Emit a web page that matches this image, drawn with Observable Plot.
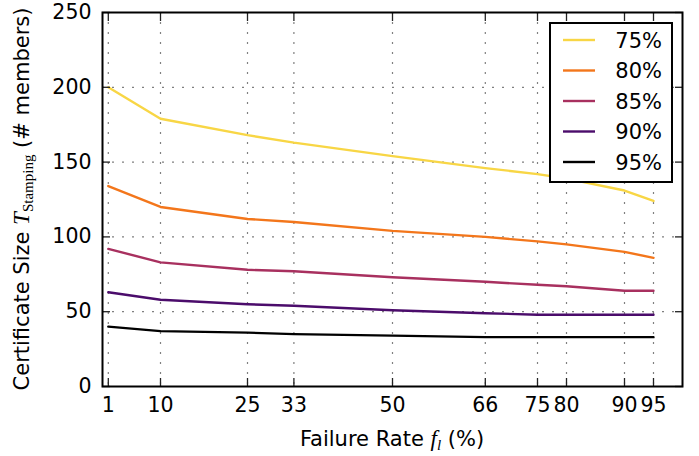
<!DOCTYPE html>
<html><head><meta charset="utf-8">
<script src="https://cdn.jsdelivr.net/npm/d3@7"></script>
<script src="https://cdn.jsdelivr.net/npm/@observablehq/plot@0.6"></script>
<style>body{margin:0;background:#fff} svg{display:block}</style>
</head><body><div id="chart"></div>
<script>
const failureRates = [1, 10, 25, 33, 50, 66, 75, 80, 90, 95];
const seriesNames = ["75%", "80%", "85%", "90%", "95%"];
const seriesColors = ["#f8d645", "#f3761b", "#a8305f", "#4b0c6b", "#000000"];
const s75 = [200, 179, 168, 163, 154, 146, 142, 139, 131, 124];
const s80 = [134, 120, 112, 110, 104, 100, 97, 95, 90, 86];
const s85 = [92, 83, 78, 77, 73, 70, 68, 67, 64, 64];
const s90 = [63, 58, 55, 54, 51, 49, 48, 48, 48, 48];
const s95 = [40, 37, 36, 35, 34, 33, 33, 33, 33, 33];
const yTicks = [0, 50, 100, 150, 200, 250];
const yGrid = [50, 100, 150, 200];

const allSeries = [s75, s80, s85, s90, s95];
const data = [];
allSeries.forEach((vals, si) => vals.forEach((v, i) => data.push({x: failureRates[i], y: v, series: seriesNames[si]})));

const font = "DejaVu Sans";
const chart = Plot.plot({
  width: 699, height: 456,
  marginLeft: 102, marginRight: 17, marginTop: 12, marginBottom: 70,
  x: {domain: [0, 100]},
  y: {domain: [0, 250]},
  color: {domain: seriesNames, range: seriesColors},
  style: {fontFamily: font, fontSize: "20.5px", color: "black", background: "white"},
  marks: [
    Plot.gridX(failureRates, {stroke: "#808080", strokeOpacity: 1, strokeWidth: 1.2, strokeDasharray: "2,8"}),
    Plot.gridY(yGrid, {stroke: "#808080", strokeOpacity: 1, strokeWidth: 1.2, strokeDasharray: "2,8"}),
    Plot.line(data, {x: "x", y: "y", z: "series", stroke: "series", strokeWidth: 2.4}),
    Plot.axisX(failureRates, {tickSize: -8, tickPadding: 19, label: null, stroke: "#222", strokeWidth: 1.3}),
    Plot.axisX(failureRates, {anchor: "top", tickSize: -8, fill: "none", label: null, stroke: "#222", strokeWidth: 1.3}),
    Plot.axisY(yTicks, {tickSize: -8, tickPadding: 19, label: null, stroke: "#222", strokeWidth: 1.3}),
    Plot.axisY(yTicks, {anchor: "right", tickSize: -8, fill: "none", label: null, stroke: "#222", strokeWidth: 1.3}),
    Plot.frame({stroke: "black", strokeWidth: 2})
  ]
});
document.getElementById("chart").appendChild(chart);

const svg = d3.select(chart);
// y label
const yl = svg.append("text")
  .attr("transform", "translate(29,199) rotate(-90)")
  .attr("text-anchor", "middle")
  .attr("fill", "black")
  .style("font-family", font).style("font-size", "21px");
yl.append("tspan").text("Certificate Size ");
yl.append("tspan").text("T").style("font-family", "Liberation Serif").style("font-style", "italic").style("font-size", "23px");
yl.append("tspan").text("Stamping").attr("dy", 4).style("font-family", "Liberation Serif").style("font-size", "15px");
yl.append("tspan").text(" (# members)").attr("dy", -4);

// x label
const xl = svg.append("text")
  .attr("transform", "translate(392,446)")
  .attr("text-anchor", "middle")
  .attr("fill", "black")
  .style("font-family", font).style("font-size", "21px");
xl.append("tspan").text("Failure Rate ");
xl.append("tspan").text("f").style("font-family", "Liberation Serif").style("font-style", "italic").style("font-size", "23px");
xl.append("tspan").text("l").attr("dy", 4).style("font-family", "Liberation Serif").style("font-style", "italic").style("font-size", "15px");
xl.append("tspan").text(" (%)").attr("dy", -4);

// legend
const lg = svg.append("g");
lg.append("rect").attr("x", 550).attr("y", 23).attr("width", 122).attr("height", 159)
  .attr("fill", "white").attr("stroke", "black").attr("stroke-width", 2);
seriesNames.forEach((name, i) => {
  const cy = 40 + i * 30.5;
  lg.append("line").attr("x1", 563).attr("x2", 595).attr("y1", cy).attr("y2", cy)
    .attr("stroke", seriesColors[i]).attr("stroke-width", 2.4);
  lg.append("text").attr("x", 662).attr("y", cy + 7.5).attr("text-anchor", "end")
    .attr("fill", "black").style("font-family", font).style("font-size", "21px").text(name);
});
</script>
</body></html>
